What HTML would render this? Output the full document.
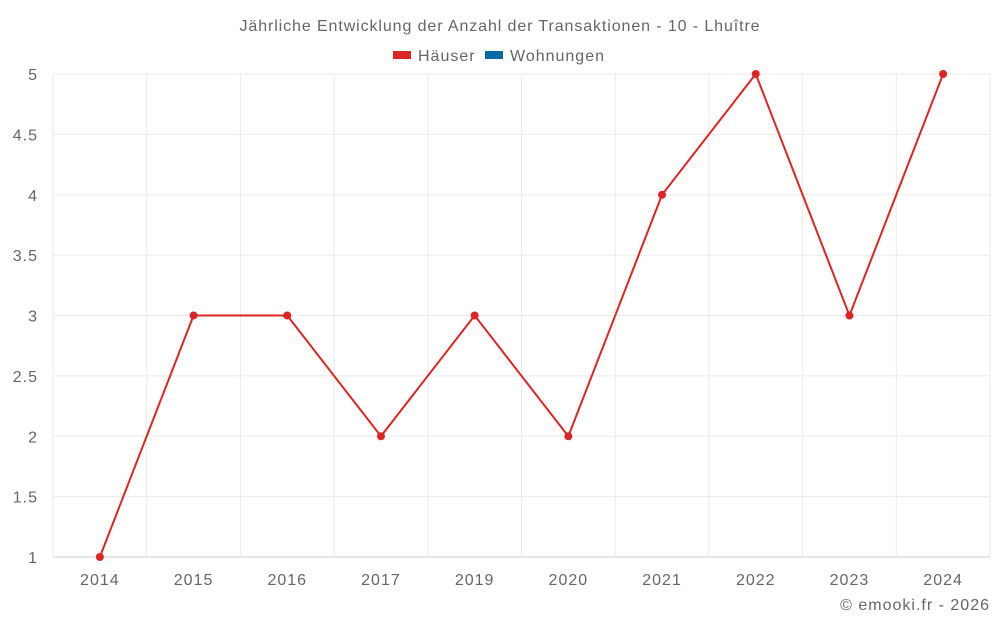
<!DOCTYPE html>
<html><head><meta charset="utf-8"><style>
body{margin:0;background:#fff;font-family:"Liberation Sans",sans-serif;}
svg text{font-family:"Liberation Sans",sans-serif;fill:#666;letter-spacing:1px;}
</style></head><body>
<svg width="1000" height="625" id="chart">
<text x="500" y="31" text-anchor="middle" font-size="16" style="letter-spacing:0.9px">Jährliche Entwicklung der Anzahl der Transaktionen - 10 - Lhuître</text>
<g><rect x="393" y="51" width="18" height="8" fill="#dc2626"/><text x="418" y="61" font-size="16">Häuser</text></g>
<g><rect x="485" y="51" width="18" height="8" fill="#0369a1"/><text x="510" y="61" font-size="16">Wohnungen</text></g>
<g id="grid"></g><g id="axes"></g><g id="series"></g>
<text x="990" y="610" text-anchor="end" font-size="16">© emooki.fr - 2026</text>
</svg>
<script>
const categories=["2014","2015","2016","2017","2019","2020","2021","2022","2023","2024"];
const haeuser=[1,3,3,2,3,2,4,5,3,5];
const yTicks=[1,1.5,2,2.5,3,3.5,4,4.5,5];
const yTickLabels=["1","1.5","2","2.5","3","3.5","4","4.5","5"];
const NS="http://www.w3.org/2000/svg";
const L=53,R=990,T=74,B=557,yMin=1,yMax=5;
const bw=(R-L)/categories.length;
const xS=i=>L+bw*(i+0.5);
const yS=v=>B-(v-yMin)/(yMax-yMin)*(B-T);
function mk(t,a,p){const e=document.createElementNS(NS,t);for(const k in a)e.setAttribute(k,a[k]);p.appendChild(e);return e;}
const g=document.getElementById('grid'),ax=document.getElementById('axes'),s=document.getElementById('series');
yTicks.forEach((v,i)=>{
 const ln=mk('line',{x1:L,x2:R,y1:yS(v),y2:yS(v),stroke:i===0?'#ccc':'#ebebeb'},g);
 
 
 const t=mk('text',{x:38,y:yS(v)+6,'text-anchor':'end','font-size':16},ax);t.textContent=yTickLabels[i];
 
 
});
for(let i=0;i<=categories.length;i++){
 const ln=mk('line',{x1:L+bw*i,x2:L+bw*i,y1:T,y2:B,stroke:'#ebebeb'},g);
 
 
}
categories.forEach((c,i)=>{
 const t=mk('text',{x:xS(i),y:585,'text-anchor':'middle','font-size':16},ax);t.textContent=c;
 
 
});
const p=mk('polyline',{points:haeuser.map((v,i)=>xS(i)+','+yS(v)).join(' '),fill:'none',stroke:'#dc2626','stroke-width':2},s);


haeuser.forEach((v,i)=>{
 const c=mk('circle',{cx:xS(i),cy:yS(v),r:4,fill:'#dc2626'},s);
 
 
});
</script>
</body></html>
